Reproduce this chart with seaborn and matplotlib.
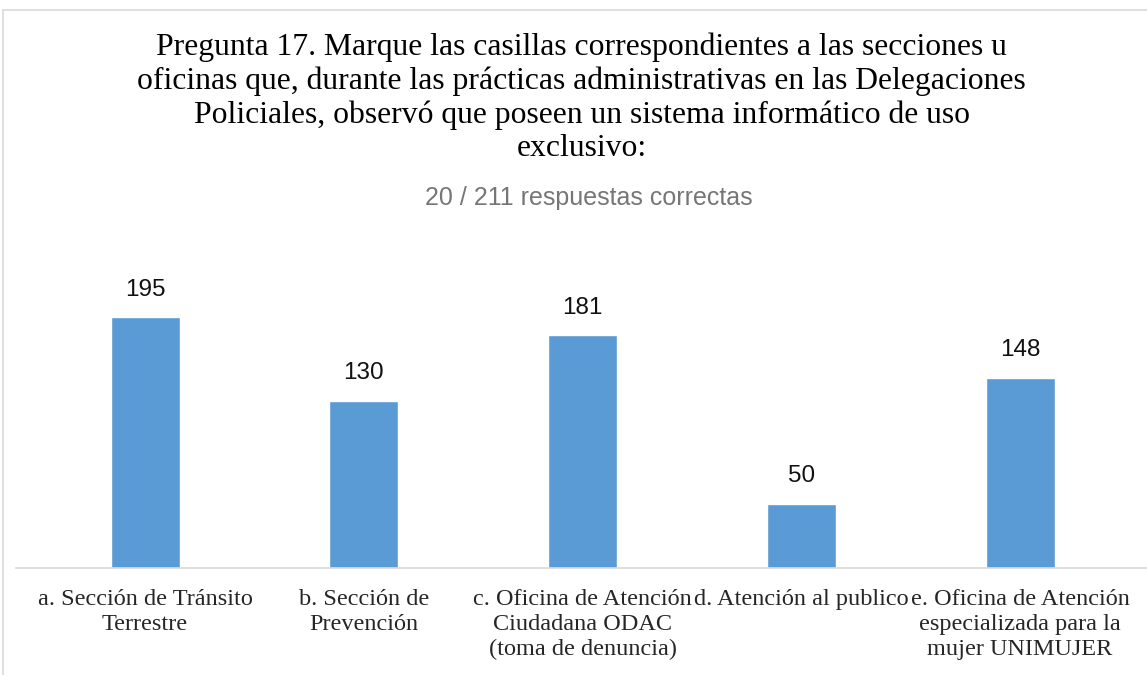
import pandas as pd
import matplotlib.pyplot as plt
import seaborn as sns
from matplotlib.lines import Line2D

categories = [
    "a. Sección de Tránsito\nTerrestre",
    "b. Sección de\nPrevención",
    "c. Oficina de Atención\nCiudadana ODAC\n(toma de denuncia)",
    "d. Atención al publico",
    "e. Oficina de Atención\nespecializada para la\nmujer UNIMUJER",
]
counts = [195, 130, 181, 50, 148]

title = ("Pregunta 17. Marque las casillas correspondientes a las secciones u\n"
         "oficinas que, durante las prácticas administrativas en las Delegaciones\n"
         "Policiales, observó que poseen un sistema informático de uso\n"
         "exclusivo:")
subtitle = "20 / 211 respuestas correctas"

bar_color = "#5B9BD5"

sns.set_style("white")
plt.rcParams['font.family'] = ['Liberation Serif', 'DejaVu Serif']

df = pd.DataFrame({"cat": categories, "n": counts})

fig = plt.figure(figsize=(11.47, 6.75), dpi=100)
ax = fig.add_axes([16 / 1147, 1 - 568 / 675, 1 - 16 / 1147, 328 / 675])

sns.barplot(data=df, x="cat", y="n", color=bar_color, width=0.315,
            saturation=1, ax=ax)

ax.set_xlim(-0.59, 4.58)
ax.set_ylim(0, 255)
ax.set_xlabel("")
ax.set_ylabel("")
ax.set_yticks([])
ax.tick_params(axis="x", length=0, pad=15, labelsize=17.5)
for lbl in ax.get_xticklabels():
    lbl.set_linespacing(1.24)
    lbl.set_verticalalignment("top")

for s in ["top", "right", "left"]:
    ax.spines[s].set_visible(False)
ax.spines["bottom"].set_color("#D9D9D9")
ax.spines["bottom"].set_linewidth(1.2)

for c in ax.containers:
    ax.bar_label(c, padding=12, fontsize=17.5, color="#111111",
                 family="Liberation Sans")

fig.text(0.507, 1 - 32 / 675, title, ha="center", va="top", fontsize=22.8,
         linespacing=1.2, color="black")
fig.text(0.513, 1 - 198 / 675, subtitle, ha="center", va="center",
         fontsize=18, color="#767676", family="Liberation Sans")

# chart area border (cropped at right and bottom)
fig.add_artist(Line2D([3 / 1147, 1], [1 - 10 / 675, 1 - 10 / 675],
                      transform=fig.transFigure, color="#D9D9D9", lw=1.2))
fig.add_artist(Line2D([3 / 1147, 3 / 1147], [0, 1 - 10 / 675],
                      transform=fig.transFigure, color="#D9D9D9", lw=1.2))

fig.savefig("out.png", dpi=100)
